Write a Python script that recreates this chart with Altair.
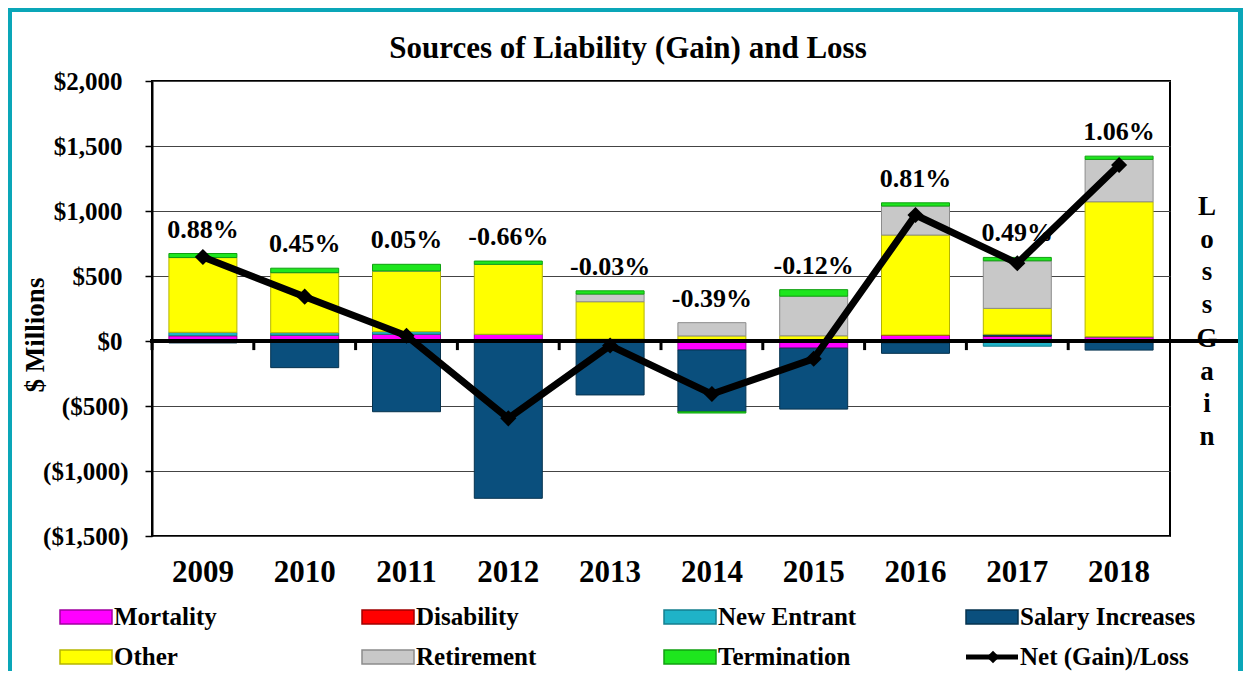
import altair as alt
import pandas as pd

# ---------------- data ----------------
years = ["2009", "2010", "2011", "2012", "2013", "2014", "2015", "2016", "2017", "2018"]

series_names = ["Mortality", "Disability", "New Entrant", "Salary Increases",
                "Other", "Retirement", "Termination"]

mortality   = [41, 45, 52, 52, 15, -69, -55, 46, 38, 33]
disability  = [0, 0, 0, 0, 0, 0, 0, 0, 0, 0]
new_entrant = [26, 19, 20, 0, 0, 0, 0, -15, -40, 0]
salary      = [-15, -205, -544, -1210, -415, -475, -469, -80, 13, -70]
other       = [575, 462, 467, 538, 287, 39, 40, 769, 200, 1038]
retirement  = [0, 0, 0, 0, 59, 102, 305, 223, 366, 326]
termination = [31, 34, 51, 25, 25, -10, 50, 25, 26, 25]

net_name = "Net (Gain)/Loss"
net_values = [646, 341, 40, -595, -35, -408, -137, 969, 598, 1354]
net_labels = ["0.88%", "0.45%", "0.05%", "-0.66%", "-0.03%",
              "-0.39%", "-0.12%", "0.81%", "0.49%", "1.06%"]

y_ticks = [-1500, -1000, -500, 0, 500, 1000, 1500, 2000]
title_text = "Sources of Liability (Gain) and Loss"
y_title = "$ Millions"
side_words = ["Loss", "Gain"]

# ---------------- styling ----------------
series_colors = ["#FF00FF", "#FF0000", "#1FB3C8", "#0A4F7D",
                 "#FFFF00", "#C8C8C8", "#1EE61E"]
series_edges = ["#A000A0", "#A00000", "#157F8E", "#06334F",
                "#B5B500", "#8C8C8C", "#10A010"]
TEAL = "#0AA6B8"
FONT = "Liberation Serif"
W, H = 1018, 455
PAD = {"left": 144, "top": 73, "right": 73, "bottom": 135}

series_values = [mortality, disability, new_entrant, salary, other, retirement, termination]
rows = []
for k, (name, vals) in enumerate(zip(series_names, series_values)):
    for yr, v in zip(years, vals):
        rows.append({"year": yr, "series": name, "value": v, "order": k})
bars_df = pd.DataFrame(rows)

pos_totals = [sum(max(s[i], 0) for s in series_values) for i in range(len(years))]
net_df = pd.DataFrame({"year": years, "net": net_values, "label": net_labels, "top": pos_totals})

xs = alt.Scale(domain=years, paddingInner=0, paddingOuter=0)
ys = alt.Scale(domain=[-1500, 2000], nice=False, zero=False)
color_scale = alt.Scale(domain=series_names, range=series_colors)
edge_scale = alt.Scale(domain=series_names, range=series_edges)

one = pd.DataFrame({"a": [0]})

# teal frame strips
def strip(x, x2, y, y2):
    return alt.Chart(one).mark_rect(color=TEAL).encode(
        x=alt.value(x), x2=alt.value(x2), y=alt.value(y), y2=alt.value(y2))

frame = strip(-144, -140, -73, 600) + strip(-144, 1091, -73, -69) + strip(1086, 1091, -73, 600)

label_expr = ("datum.value < 0 ? '($' + format(-datum.value, ',') + ')' : "
              "'$' + format(datum.value, ',')")

bars = alt.Chart(bars_df).mark_bar(size=68, strokeWidth=1).encode(
    x=alt.X("year:N", scale=xs, title=None,
            axis=alt.Axis(labelFont=FONT, labelFontSize=31, labelFontWeight="bold",
                          labelColor="black", labelAngle=0, ticks=False, domain=False,
                          labelPadding=21, grid=False)),
    y=alt.Y("value:Q", scale=ys, stack="zero", title=None,
            axis=alt.Axis(values=y_ticks, labelExpr=label_expr, labelFont=FONT,
                          labelFontSize=25, labelFontWeight="bold", labelColor="black",
                          tickSize=7, tickColor="black", tickWidth=1.5,
                          labelPadding={"condition": {"test": "datum.value >= 0", "value": 23},
                                        "value": 17},
                          grid=True, gridColor="#444444", gridWidth=1,
                          domain=True, domainColor="black", domainWidth=2)),
    color=alt.Color("series:N", scale=color_scale, legend=None),
    stroke=alt.Stroke("series:N", scale=edge_scale, legend=None),
    order=alt.Order("order:Q", sort="ascending"),
)

zero_line = alt.Chart(one).mark_rule(color="black", strokeWidth=4).encode(
    y=alt.datum(0), x=alt.value(-2), x2=alt.value(1086))

zero_ticks = alt.Chart(net_df).mark_rule(color="black", strokeWidth=3).encode(
    x=alt.X("year:N", scale=xs, bandPosition=0),
    y=alt.datum(0), y2=alt.datum(-70))

line = alt.Chart(net_df).mark_line(
    color="black", strokeWidth=7,
    point=alt.OverlayMarkDef(shape="diamond", size=260, filled=True, color="black")
).encode(x=alt.X("year:N", scale=xs), y=alt.Y("net:Q", scale=ys))

pct = alt.Chart(net_df).mark_text(font=FONT, fontSize=26, fontWeight="bold", color="black",
                                  dy=-16, baseline="alphabetic", align="center").encode(
    x=alt.X("year:N", scale=xs), y=alt.Y("top:Q", scale=ys), text="label:N")

title = alt.Chart(pd.DataFrame({"t": [title_text]})).mark_text(
    font=FONT, fontSize=31, fontWeight="bold", color="black", align="center",
    baseline="alphabetic").encode(x=alt.value(476), y=alt.value(-23), text="t:N")

ytitle = alt.Chart(pd.DataFrame({"t": [y_title]})).mark_text(
    font=FONT, fontSize=27, fontWeight="bold", color="black", align="center",
    baseline="middle", angle=270).encode(x=alt.value(-116), y=alt.value(254), text="t:N")

loss_txt = alt.Chart(pd.DataFrame({"t": ["\n".join(side_words[0])]})).mark_text(
    font=FONT, fontSize=27, fontWeight="bold", color="black", align="center",
    baseline="alphabetic", lineBreak="\n", lineHeight=32.5).encode(
    x=alt.value(1055), y=alt.value(134), text="t:N")
gain_txt = alt.Chart(pd.DataFrame({"t": ["\n".join(side_words[1])]})).mark_text(
    font=FONT, fontSize=27, fontWeight="bold", color="black", align="center",
    baseline="alphabetic", lineBreak="\n", lineHeight=32.5).encode(
    x=alt.value(1055), y=alt.value(266), text="t:N")

# legend (manual, 4 columns x 2 rows)
leg_names = series_names + [net_name]
leg_rows = []
for i, nm in enumerate(leg_names):
    col, row = i % 4, i // 4
    sx = -92 + col * 302
    cy = 536 + row * 40
    leg_rows.append({"series": nm, "sx": sx, "sx2": sx + 52, "sxm": sx + 27,
                     "tx": sx + 54, "cy": cy, "ya": cy - 7, "yb": cy + 7,
                     "is_net": nm == net_name})
leg_df = pd.DataFrame(leg_rows)
leg_series = leg_df[~leg_df["is_net"]]
leg_net = leg_df[leg_df["is_net"]]

leg_rects = alt.Chart(leg_series).mark_rect(strokeWidth=1.5).encode(
    x=alt.X("sx:Q", scale=None), x2="sx2:Q",
    y=alt.Y("ya:Q", scale=None), y2="yb:Q",
    color=alt.Color("series:N", scale=color_scale, legend=None),
    stroke=alt.Stroke("series:N", scale=edge_scale, legend=None))

leg_line = alt.Chart(leg_net).mark_rule(color="black", strokeWidth=5).encode(
    x=alt.X("sx:Q", scale=None), x2="sx2:Q", y=alt.Y("cy:Q", scale=None))
leg_pt = alt.Chart(leg_net).mark_point(shape="diamond", size=160, filled=True,
                                       color="black", opacity=1).encode(
    x=alt.X("sxm:Q", scale=None), y=alt.Y("cy:Q", scale=None))

leg_text = alt.Chart(leg_df).mark_text(font=FONT, fontSize=25, fontWeight="bold",
                                       color="black", align="left", baseline="middle").encode(
    x=alt.X("tx:Q", scale=None), y=alt.Y("cy:Q", scale=None), text="series:N")

chart = alt.layer(
    frame, bars, zero_line, zero_ticks, line, pct, title, ytitle,
    loss_txt, gain_txt, leg_rects, leg_line, leg_pt, leg_text
).properties(
    width=W, height=H, padding=PAD, background="white",
    autosize=alt.AutoSizeParams(type="none"),
).configure_view(stroke="black", strokeWidth=2)

chart.save("out.html", embed_options={"renderer": "svg", "actions": False})
